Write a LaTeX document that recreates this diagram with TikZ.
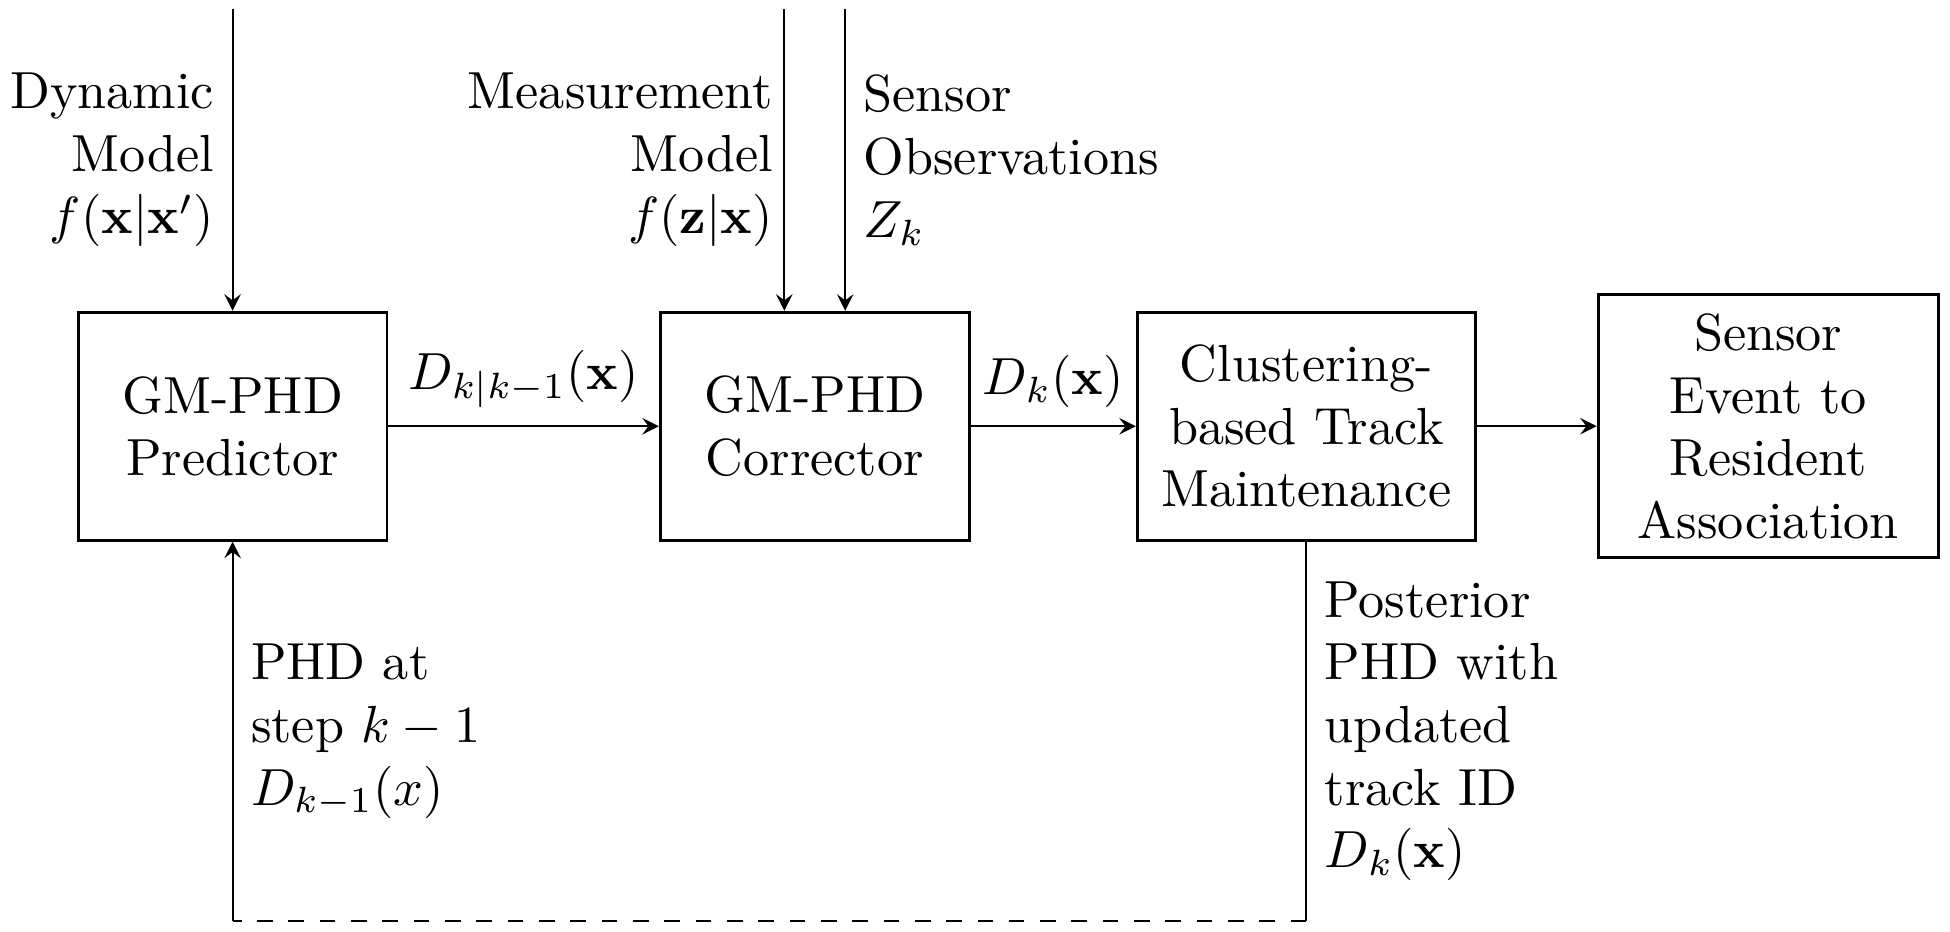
\documentclass[tikz,border=0pt]{standalone}
\usepackage{tikz}
\usetikzlibrary{arrows, positioning}
\tikzstyle{block} = [rectangle, minimum width=2.08cm, minimum height=1.535cm, text centered, align=center, draw=black, line width=0.55pt]
\tikzstyle{arrow} = [->,>=stealth]

\begin{document}
\begin{tikzpicture}[node distance=3.31cm]
\useasboundingbox (0,0) rectangle (13.13,6.27);

% Nodes
\node (pred) [block] at (1.566,3.40) {GM-PHD\\ Predictor};
\node (corr) [block, right of=pred, xshift=0.61cm] {GM-PHD\\ Corrector};
\node (clust) [block, right of=corr, minimum width=2.276cm] {Clustering-\\ based Track\\ Maintenance};
\node (event) [block, right of=clust, xshift=-0.2cm, minimum width=2.29cm, minimum height=1.77cm, inner ysep=1pt] {Sensor\\ Event to\\ Resident\\ Association};

\coordinate (dynin) at ([yshift=2.03cm]pred.north);
\coordinate (measin) at ([xshift=-0.205cm, yshift=2.03cm]corr.north);
\coordinate (obsin) at ([xshift=0.205cm, yshift=2.03cm]corr.north);
\coordinate (fbr) at ([yshift=-2.552cm]clust.south);
\coordinate (fbl) at (pred |- fbr);

% Arrows
\draw [arrow] (dynin) -- node[left, align=right] {Dynamic\\ Model\\ $f(\mathbf{x}|\mathbf{x}')$} (dynin |- pred.north);
\draw [arrow] (measin) -- node[left, align=right, inner xsep=2pt] {Measurement\\ Model\\ $f(\mathbf{z}|\mathbf{x})$} (measin |- corr.north);
\draw [arrow] (obsin) -- node[right, align=left] {Sensor\\ Observations\\ $Z_k$} (obsin |- corr.north);
\draw [arrow] (pred) -- node[above] {$D_{k|k-1}(\mathbf{x})$} (corr);
\draw [arrow] (corr) -- node[above] {$D_k(\mathbf{x})$} (clust);
\draw [arrow] (clust) -- (event);
\draw (clust) -- node[right, align=left] {Posterior\\ PHD with\\ updated\\ track ID\\ $D_k(\mathbf{x})$} (fbr);
\draw [dashed] (fbr) -- (fbl);
\draw [arrow] (fbl) -- node[right, align=left] {PHD at\\ step $k-1$\\ $D_{k-1}(x)$} (pred);

\end{tikzpicture}
\end{document}
